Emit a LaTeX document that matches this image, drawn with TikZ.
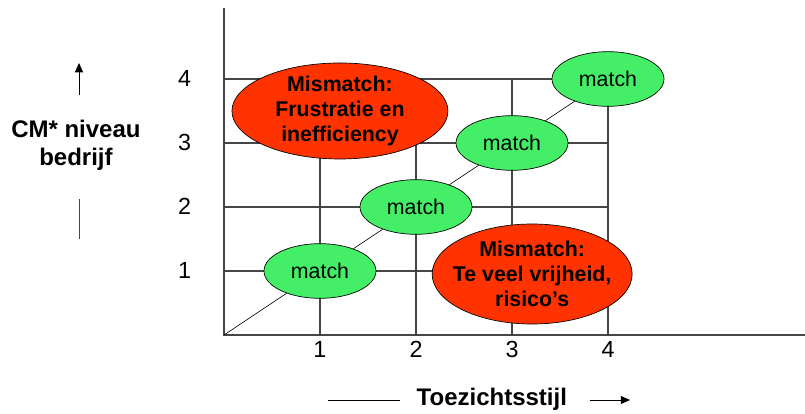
\documentclass[tikz,border=0pt]{standalone}
\usepackage{fontspec}
\setmainfont{Liberation Sans}
\usetikzlibrary{shapes.geometric,arrows.meta}
\definecolor{matchgreen}{RGB}{68,238,102}
\definecolor{mismatchred}{RGB}{255,51,0}
\definecolor{gridgray}{RGB}{70,70,70}
\begin{document}
\begin{tikzpicture}[>={Stealth[length=7pt,width=6pt,inset=0pt]},x=72pt,y=48pt,
  gridline/.style={draw=gridgray,line width=0.9pt},
  diagline/.style={draw=black,line width=0.5pt},
  matchnode/.style={ellipse,draw,line width=0.5pt,fill=matchgreen,minimum width=84pt,minimum height=41pt,inner sep=0pt,font=\fontsize{16}{19}\selectfont},
  mismatchnode/.style={ellipse,draw,line width=0.5pt,fill=mismatchred,inner xsep=-12pt,inner ysep=-6pt,align=center,font=\fontsize{16}{18.75}\selectfont\bfseries},
  ticklabel/.style={anchor=base,font=\fontsize{17.5}{21}\selectfont},
  axislabel/.style={align=center,font=\fontsize{18}{21}\selectfont\bfseries}]
\useasboundingbox (-2.333,-1.219) rectangle (6.052,5.234);
%Raster
\foreach \i in {1,...,4}{
  \draw[gridline] (\i,0) -- (\i,4);
  \draw[gridline] (0,\i) -- (4,\i);
}
%Assen
\coordinate (o) at (0,0);
\coordinate (ytop) at (0,5.11);
\coordinate (xend) at (6.06,0);
\draw[gridline] (ytop) -- (o) -- (xend);
%Schaalwaarden
\foreach \i in {1,...,4}{
  \node[ticklabel] (x\i) at (\i,-0.344) {\i};
  \node[ticklabel] (y\i) at (-0.41,\i-0.11) {\i};
}
%Mismatch
\node[mismatchnode,minimum width=162pt,minimum height=72pt] (mis1) at (1.208,3.5) {Mismatch:\\Frustratie en\\inefficiency};
\node[mismatchnode,minimum width=150pt,minimum height=75pt] (mis2) at (3.21,0.953) {Mismatch:\\Te veel vrijheid,\\risico’s};
%Match
\foreach \i in {1,...,4}
  \node[matchnode] (m\i) at (\i,\i) {match};
\draw[diagline] (o) -- (m1) -- (m2) -- (m3) -- (m4);
%Label y
\node[axislabel] (ylab) at (-1.542,2.96) {CM* niveau\\bedrijf};
\coordinate (yarrowlow) at (-1.51,3.75);
\coordinate (yarrowtop) at (-1.51,4.25);
\coordinate (ylinetop) at (-1.51,2.125);
\coordinate (ylinelow) at (-1.51,1.5);
\draw[->,line width=0.7pt] (yarrowlow) -- (yarrowtop);
\draw[gridgray,line width=0.7pt] (ylinetop) -- (ylinelow);
%Label x
\node[axislabel,anchor=base] (xlab) at (2.79,-1.094) {Toezichtsstijl};
\coordinate (xlinestart) at (1.083,-1.016);
\coordinate (xlineend) at (1.833,-1.016);
\coordinate (xarrowstart) at (3.81,-1.016);
\coordinate (xarrowend) at (4.23,-1.016);
\draw[line width=0.7pt] (xlinestart) -- (xlineend);
\draw[->,line width=0.7pt] (xarrowstart) -- (xarrowend);
\end{tikzpicture}
\end{document}
